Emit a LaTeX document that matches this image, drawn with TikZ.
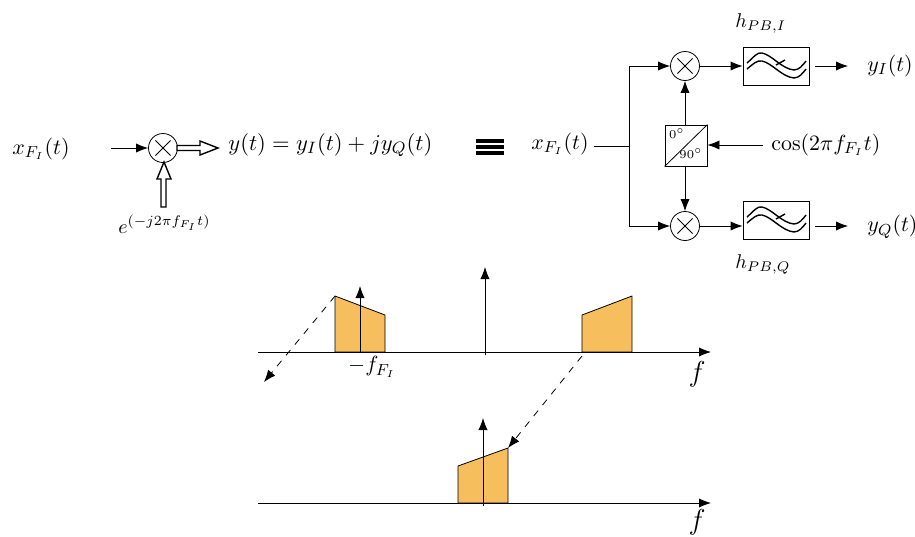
\documentclass[tikz,border=0pt]{standalone}
\usetikzlibrary{arrows.meta}
\definecolor{bandfill}{RGB}{246,190,92}
\tikzset{
  x=0.5pt,y=-0.5pt,
  line width=0.9pt,
  sig/.style={-{Latex[length=6pt,width=4.6pt]}},
  dashsig/.style={sig,dash pattern=on 3.5pt off 3.5pt},
  mult/.style={draw,circle,minimum size=14.5pt,inner sep=0pt,path picture={
    \draw (path picture bounding box.center)+(-3.8pt,-3.8pt) -- +(3.8pt,3.8pt)
          (path picture bounding box.center)+(-3.8pt,3.8pt) -- +(3.8pt,-3.8pt);}},
  filt/.style={draw,minimum width=33pt,minimum height=19pt,inner sep=0pt},
  phase/.style={draw,minimum width=21pt,minimum height=20.5pt,inner sep=0pt},
  lab/.style={inner sep=0pt,anchor=west,font=\fontsize{11}{13}\selectfont},
  sublab/.style={inner sep=0pt,anchor=west,font=\fontsize{10}{12}\selectfont},
  band/.style={draw,fill=bandfill,line join=round},
  hollow/.style={draw,fill=white,line width=0.7pt},
  small/.style={inner sep=0pt,font=\fontsize{6}{7}\selectfont},
  axlab/.style={inner sep=0pt,font=\fontsize{14}{16}\selectfont}
}
\newcommand{\filterwaves}[1]{%
  \begin{scope}[shift={(#1)},line width=0.7pt]
    \draw (-29,-3) .. controls (-22,-9) and (-19,-14) .. (-14,-13) .. controls (-4,-11) and (6,3) .. (18,4) .. controls (23,4) and (27,-1) .. (30,-5);
    \draw (-29,3) .. controls (-23,-2) and (-19,-6) .. (-14,-5) .. controls (-4,-3) and (6,11) .. (18,12) .. controls (23,12) and (27,7) .. (30,3);
    \draw (0,-1) -- (9,-6);
  \end{scope}}
\begin{document}
\begin{tikzpicture}
\useasboundingbox (0,0) rectangle (915,536);
% left part
\node[lab] (xl) at (12,149) {$x_{F_I}(t)$};
\node[mult] (ml) at (163,148) {};
\coordinate (inl) at (111,148);
\draw[sig] (inl) -- (ml);
\node[lab,scale=1.03] (yeq) at (228,145) {$y(t)=y_I(t)+jy_Q(t)$};
\node[sublab] (exp) at (118,224) {$e^{(-j2\pi f_{F_I}t)}$};
\draw[hollow] (177,145.5) -- (200,145.5) -- (200,141) -- (218,148) -- (200,155) -- (200,150.5) -- (177,150.5) -- cycle;
\draw[hollow] (161,207) -- (161,179) -- (157,179) -- (164,162) -- (171,179) -- (166,179) -- (166,207) -- cycle;
% equivalence
\foreach \yy in {141,147,153} \draw[line width=1.6pt] (476,\yy) -- (504,\yy);
% right part
\node[lab] (xr) at (531,144) {$x_{F_I}(t)$};
\node[mult] (mt) at (685,66) {};
\node[mult] (mb) at (685,226) {};
\node[filt] (ft) at (776,66) {};
\node[filt] (fb) at (776,220) {};
\filterwaves{ft.center}
\filterwaves{fb.center}
\node[phase] (ph) at (686,145.5) {};
\draw (ph.south west) -- (ph.north east);
\node[small] (p0) at (677,134) {$0^\circ$};
\node[small] (p90) at (691,154) {$90^\circ$};
\coordinate (split) at (629,146);
\coordinate (xre) at (594,146);
\coordinate (st) at (629,66);
\coordinate (sb) at (629,226);
\draw (xre) -- (split);
\draw[sig] (split) -- (st) -- (mt);
\draw[sig] (split) -- (sb) -- (mb);
\draw[sig] (ph.north -| mt) -- (mt);
\draw[sig] (ph.south -| mb) -- (mb);
\draw[sig] (mt) -- (ft);
\draw[sig] (mb) -- (mb -| fb.west);
\node[lab] (cosl) at (771,145) {$\cos(2\pi f_{F_I}t)$};
\coordinate (cose) at (763,145);
\draw[sig] (cose) -- (ph.east |- cose);
\node[lab] (yi) at (867,66) {$y_I(t)$};
\node[lab] (yq) at (867,227) {$y_Q(t)$};
\coordinate (oti) at (815,66);
\coordinate (ote) at (848,66);
\coordinate (obi) at (815,226);
\coordinate (obe) at (848,226);
\draw[sig] (oti) -- (ote);
\draw[sig] (obi) -- (obe);
\node[sublab] (hi) at (735,23) {$h_{PB,I}$};
\node[sublab] (hq) at (735,264) {$h_{PB,Q}$};
% upper spectrum
\draw[band] (335,352) -- (335,296) -- (385,315) -- (385,352) -- cycle;
\draw[band] (582,352) -- (582,315) -- (632,296) -- (632,352) -- cycle;
\coordinate (a1s) at (258,352);
\coordinate (a1e) at (711,352);
\draw[sig] (a1s) -- (a1e);
\coordinate (t1s) at (360,352);
\coordinate (t1e) at (360,286);
\draw[sig] (t1s) -- (t1e);
\coordinate (t2s) at (485,355);
\coordinate (t2e) at (485,267);
\draw[sig] (t2s) -- (t2e);
\coordinate (d1s) at (335,296);
\coordinate (d1e) at (264,382);
\draw[dashsig] (d1s) -- (d1e);
\node[inner sep=0pt,font=\fontsize{11}{13}\selectfont] (fneg) at (372,367) {$-f_{F_I}$};
\node[axlab] (f1) at (697,374) {$f$};
% lower spectrum
\draw[band] (458,503) -- (458,466) -- (508,448) -- (508,503) -- cycle;
\coordinate (a2s) at (258,503);
\coordinate (a2e) at (711,503);
\draw[sig] (a2s) -- (a2e);
\coordinate (t3s) at (483,506);
\coordinate (t3e) at (483,418);
\draw[sig] (t3s) -- (t3e);
\coordinate (d2s) at (582,356);
\coordinate (d2e) at (508,448);
\draw[dashsig] (d2s) -- (d2e);
\node[axlab] (f2) at (697,522) {$f$};
\end{tikzpicture}
\end{document}
